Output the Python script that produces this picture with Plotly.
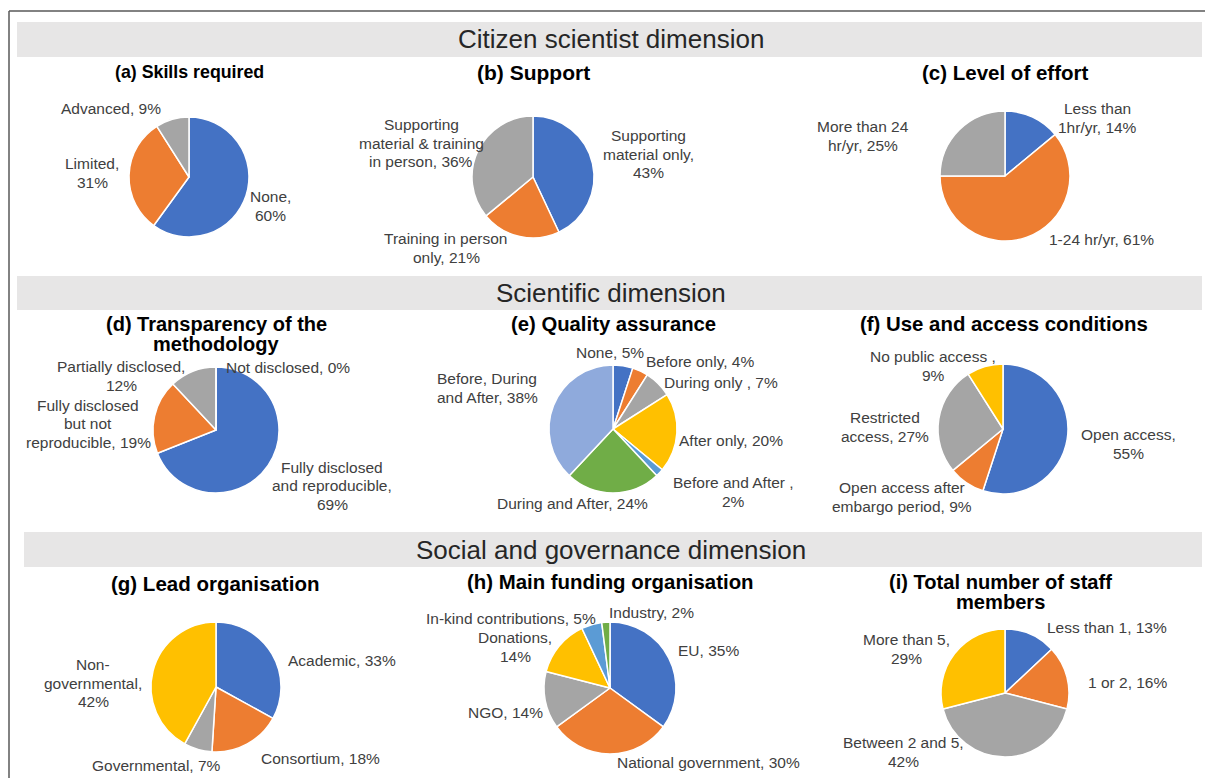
import plotly.graph_objects as go

W, H = 1205, 778

# ---------------- data ----------------
skills_labels = ["None", "Limited", "Advanced"]
skills_values = [60, 31, 9]

support_labels = ["Supporting<br>material only", "Training in person<br>only",
                  "Supporting<br>material & training<br>in person"]
support_values = [43, 21, 36]

effort_labels = ["Less than<br>1hr/yr", "1-24 hr/yr", "More than 24<br>hr/yr"]
effort_values = [14, 61, 25]

transp_labels = ["Fully disclosed<br>and reproducible", "Fully disclosed<br>but not<br>reproducible",
                 "Partially disclosed", "Not disclosed"]
transp_values = [69, 19, 12, 0]

qa_labels = ["None", "Before only", "During only ", "After only", "Before and After ",
             "During and After", "Before, During<br>and After"]
qa_values = [5, 4, 7, 20, 2, 24, 38]

access_labels = ["Open access", "Open access after<br>embargo period", "Restricted<br>access",
                 "No public access "]
access_values = [55, 9, 27, 9]

lead_labels = ["Academic", "Consortium", "Governmental", "Non-<br>governmental"]
lead_values = [33, 18, 7, 42]

fund_labels = ["EU", "National government", "NGO", "Donations", "In-kind contributions", "Industry"]
fund_values = [35, 30, 14, 14, 5, 2]

staff_labels = ["Less than 1", "1 or 2", "Between 2 and 5", "More than 5"]
staff_values = [13, 16, 42, 29]

section_titles = ["Citizen scientist dimension", "Scientific dimension",
                  "Social and governance dimension"]
panel_titles = ["(a) Skills required", "(b) Support", "(c) Level of effort",
                "(d) Transparency of the<br>methodology", "(e) Quality assurance",
                "(f) Use and access conditions", "(g) Lead organisation",
                "(h) Main funding organisation", "(i) Total number of staff<br>members"]

# ---------------- styles / layout ----------------
BLUE, ORANGE, GRAY, YELLOW = "#4472C4", "#ED7D31", "#A5A5A5", "#FFC000"
LBLUE, GREEN, LAV = "#5B9BD5", "#70AD47", "#8FAADC"
FONT = "Liberation Sans, Arial, sans-serif"
LABEL_COLOR = "#404040"
LABEL_LINE = 18.5
TITLE_LINE = 19.5
title_sizes = [17.8, 21, 20.5, 20, 20.3, 20.4, 20.5, 20.4, 20.1]

# each panel: data, colours, pie centre (px), radius, title centre, label placements (x, y, separator)
panels = [
    (skills_labels, skills_values, [BLUE, ORANGE, GRAY], (189, 177), 60, (189, 72),
     [(270, 206, ",<br>"), (92, 173, ",<br>"), (111, 108, ", ")]),
    (support_labels, support_values, [BLUE, ORANGE, GRAY], (533, 177), 61, (533, 72),
     [(648, 154, ",<br>"), (446, 248, ", "), (421, 143, ", ")]),
    (effort_labels, effort_values, [BLUE, ORANGE, GRAY], (1005, 176), 65, (1005, 72),
     [(1097, 118, ", "), (1101, 240, ", "), (863, 136, ", ")]),
    (transp_labels, transp_values, [BLUE, ORANGE, GRAY, YELLOW], (216, 430), 63, (216, 334),
     [(332, 486, ",<br>"), (88, 424, ", "), (121, 376, ",<br>"), (288, 367, ", ")]),
    (qa_labels, qa_values, [BLUE, ORANGE, GRAY, YELLOW, LBLUE, GREEN, LAV], (613, 429), 64, (613, 324),
     [(610, 352, ", "), (700, 361, ", "), (721, 382, ", "), (731, 440, ", "),
      (734, 492, ",<br>"), (572, 503, ", "), (487, 388, ", ")]),
    (access_labels, access_values, [BLUE, ORANGE, GRAY, YELLOW], (1003, 429), 65, (1004, 324),
     [(1128, 444, ",<br>"), (902, 497, ", "), (885, 427, ", "), (933, 366, ",<br>")]),
    (lead_labels, lead_values, [BLUE, ORANGE, GRAY, YELLOW], (216, 687), 65, (215, 583),
     [(342, 660, ", "), (320, 758, ", "), (156, 765, ", "), (93, 683, ",<br>")]),
    (fund_labels, fund_values, [BLUE, ORANGE, GRAY, YELLOW, LBLUE, GREEN], (610, 688), 66, (610, 582),
     [(708, 650, ", "), (708, 762, ", "), (505, 712, ", "), (515, 647, ",<br>"),
      (511, 618, ", "), (651, 612, ", ")]),
    (staff_labels, staff_values, [BLUE, ORANGE, GRAY, YELLOW], (1005, 693), 64, (1000, 592),
     [(1107, 627, ", "), (1127, 682, ", "), (903, 752, ",<br>"), (906, 649, ",<br>")]),
]

bands = [(22, 57, 17), (276, 310, 17), (532, 567, 24)]  # y0, y1, x0 in px


def px(x):
    return x / W


def py(y):
    return 1 - y / H


fig = go.Figure()
annotations = []
shapes = []


def add_lines(text, x, y, spacing, font):
    lines = text.split("<br>")
    n = len(lines)
    for i, line in enumerate(lines):
        yy = y + (i - (n - 1) / 2) * spacing
        annotations.append(dict(x=px(x), y=py(yy), xref="paper", yref="paper", text=line,
                                showarrow=False, font=font, xanchor="center", yanchor="middle"))


# border lines
shapes.append(dict(type="line", xref="paper", yref="paper", x0=px(9), x1=px(9), y0=py(11), y1=0,
                   line=dict(color="#595959", width=1.5)))
shapes.append(dict(type="line", xref="paper", yref="paper", x0=px(9), x1=1, y0=py(11), y1=py(11),
                   line=dict(color="#595959", width=1.5)))

for (y0, y1, x0), title in zip(bands, section_titles):
    shapes.append(dict(type="rect", xref="paper", yref="paper", x0=px(x0), x1=px(1202),
                       y0=py(y1), y1=py(y0), fillcolor="#E7E6E6", line=dict(width=0), layer="below"))
    annotations.append(dict(x=px(611), y=py((y0 + y1) / 2), xref="paper", yref="paper", text=title,
                            showarrow=False, font=dict(family=FONT, size=26, color="#262626"),
                            xanchor="center", yanchor="middle"))

for (labels, values, colors, (cx, cy), r, (tx, ty), lab_pos), ptitle, tsize in zip(
        panels, panel_titles, title_sizes):
    fig.add_trace(go.Pie(
        labels=labels, values=values, sort=False, direction="clockwise", rotation=0,
        marker=dict(colors=colors, line=dict(color="white", width=1.5)),
        textinfo="none", hoverinfo="label+percent", showlegend=False,
        domain=dict(x=[px(cx - r), px(cx + r)], y=[py(cy + r), py(cy - r)]),
    ))
    bold = "<br>".join("<b>" + t + "</b>" for t in ptitle.split("<br>"))
    add_lines(bold, tx, ty, TITLE_LINE, dict(family=FONT, size=tsize, color="#000000"))
    for lab, val, (lx, ly, sep) in zip(labels, values, lab_pos):
        add_lines(f"{lab}{sep}{val}%", lx, ly, LABEL_LINE,
                  dict(family=FONT, size=15.5, color=LABEL_COLOR))

fig.update_layout(width=W, height=H, margin=dict(l=0, r=0, t=0, b=0),
                  paper_bgcolor="white", plot_bgcolor="white",
                  shapes=shapes, annotations=annotations)

fig.write_html("out.html", config={"displayModeBar": False},
               post_script="document.body.style.margin='0';document.body.style.overflow='hidden';")
